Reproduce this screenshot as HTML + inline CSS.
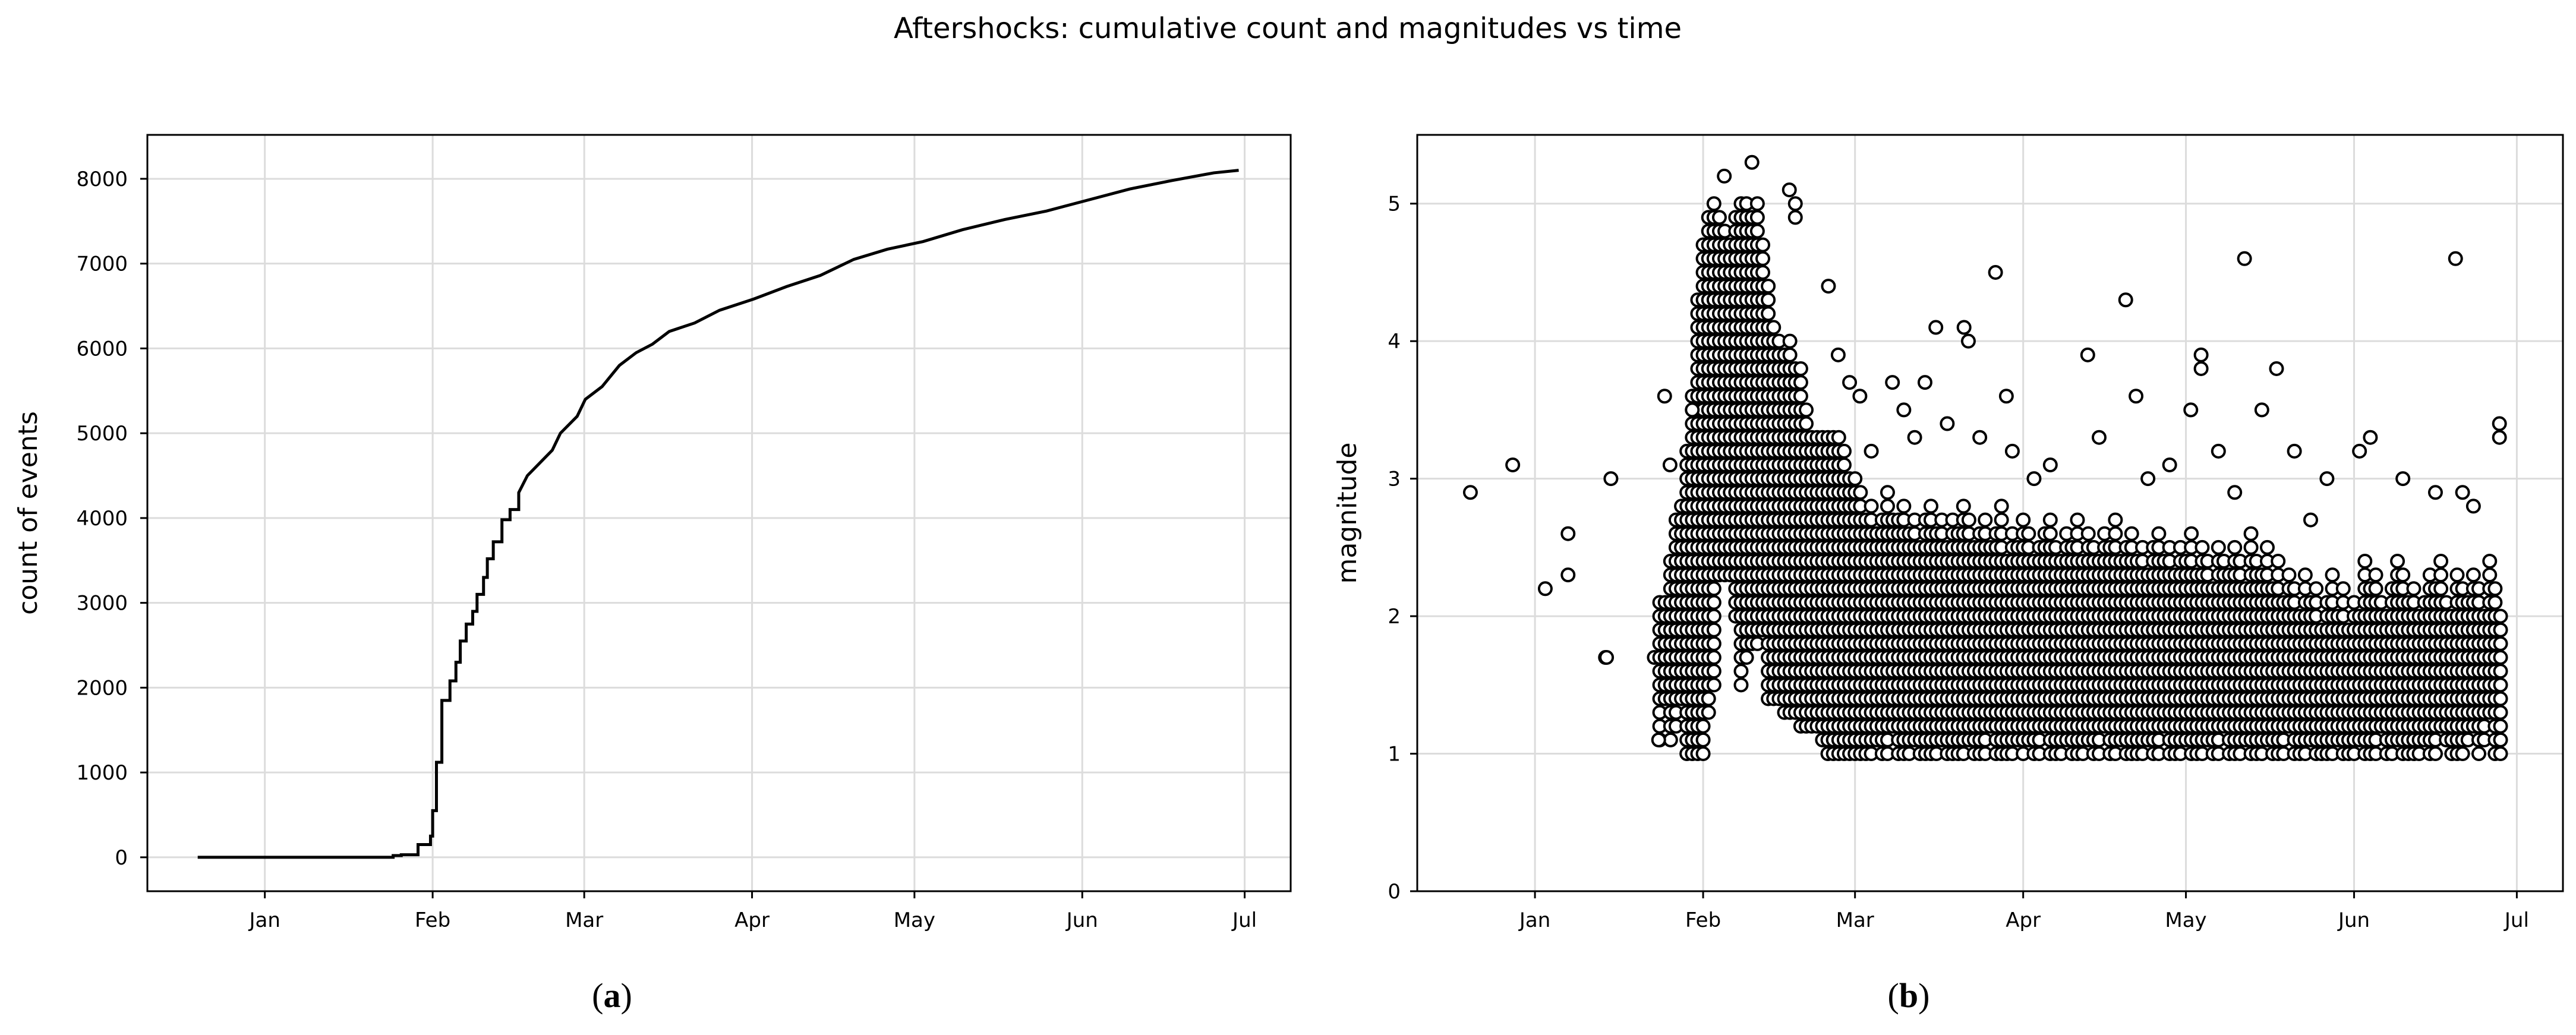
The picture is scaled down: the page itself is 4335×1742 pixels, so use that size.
<!DOCTYPE html>
<html><head><meta charset="utf-8"><style>
html,body{margin:0;padding:0;background:#fff;}
svg{display:block;font-family:"DejaVu Sans","Liberation Sans",sans-serif;}
</style></head><body>
<svg id="fig" width="4335" height="1742" viewBox="0 0 4335 1742" xmlns="http://www.w3.org/2000/svg">
<rect width="4335" height="1742" fill="#fff"/>
<text x="2167" y="64" font-size="48" text-anchor="middle">Aftershocks: cumulative count and magnitudes vs time</text>
<g id="pa"></g>
<g id="pb"></g>
<text x="1030" y="1695" font-size="58" text-anchor="middle" font-family="Liberation Serif,serif">(<tspan font-weight="bold">a</tspan>)</text>
<text x="3212" y="1695" font-size="58" text-anchor="middle" font-family="Liberation Serif,serif">(<tspan font-weight="bold">b</tspan>)</text>
</svg>
<script>
// shared x axis (day 0 = Jan 1)
const monthLabels = ["Jan","Feb","Mar","Apr","May","Jun","Jul"];
const monthDays = [0,31,59,90,120,151,181];
// panel a data
const countTicks = [0,1000,2000,3000,4000,5000,6000,7000,8000];
const cumDays = [-12.4,23.7,25.2,28.3,30.6,31,31.7,32.7,34.2,35.3,36.1,37.2,38.4,39.2,40.4,41.1,42.2,43.8,45.3,46.9,48.5,50.8,53.1,54.6,57.7,59.2,62.3,65.5,68.6,71.6,74.7,79.4,84,90.2,96.4,102.6,108.8,115,121.6,128.9,136.7,144.4,152.1,159.8,167.6,175.3,179.9];
const cumCounts = [0,20,30,150,250,550,1120,1850,2080,2300,2550,2750,2900,3100,3300,3520,3720,3980,4100,4300,4500,4650,4800,5000,5200,5400,5550,5800,5950,6050,6200,6300,6450,6580,6730,6860,7050,7170,7260,7400,7520,7620,7750,7880,7980,8070,8100];
// panel b data
const magTicks = [0,1,2,3,4,5];
const colFirstDay = 22;
const colMagMin = [1.7,1.1,1.4,1.1,1.2,1.4,1.0,1.0,1.0,1.0,1.3,1.5,2.3,2.3,2.3,2.0,1.5,1.7,1.8,1.8,1.9,1.4,1.4,1.4,1.3,1.3,1.3,1.2,1.2,1.2,1.2,1.1,1.0,1.0,1.0,1.0,1.0,1.0,1.0,1.0,1.0,1.1,1.0,1.0,1.2,1.0,1.0,1.0,1.1,1.0,1.0,1.0,1.0,1.1,1.0,1.0,1.0,1.0,1.1,1.0,1.0,1.0,1.2,1.0,1.0,1.0,1.0,1.1,1.0,1.1,1.0,1.0,1.2,1.0,1.0,1.0,1.1,1.0,1.0,1.0,1.1,1.0,1.0,1.2,1.0,1.0,1.1,1.0,1.0,1.0,1.0,1.1,1.0,1.0,1.2,1.0,1.0,1.0,1.1,1.0,1.0,1.0,1.1,1.0,1.0,1.2,1.0,1.0,1.0,1.1,1.0,1.0,1.0,1.1,1.0,1.0,1.0,1.2,1.0,1.0,1.0,1.1,1.0,1.0,1.0,1.0,1.1,1.0,1.0,1.0,1.1,1.0,1.0,1.0,1.2,1.0,1.0,1.1,1.0,1.0,1.0,1.0,1.1,1.0,1.0,1.2,1.1,1.0,1.0,1.0,1.1,1.2,1.0,1.1,1.3,1.0,1.0,1.1,1.3];
const colMagMax = [1.7,2.1,2.1,2.4,2.7,2.8,3.2,3.6,4.3,4.7,4.9,5.0,4.9,4.8,4.7,4.9,5.0,5.0,4.9,5.0,4.7,4.4,4.1,4.0,3.9,4.0,3.8,3.8,3.5,3.3,3.3,3.3,3.3,3.3,3.3,3.2,3.0,3.0,2.9,2.7,2.8,2.6,2.7,2.9,2.7,2.7,2.8,2.6,2.7,2.5,2.7,2.8,2.6,2.7,2.5,2.7,2.6,2.8,2.7,2.5,2.6,2.7,2.5,2.6,2.8,2.4,2.6,2.5,2.7,2.6,2.4,2.5,2.6,2.7,2.5,2.4,2.6,2.5,2.7,2.4,2.6,2.5,2.4,2.6,2.5,2.7,2.4,2.5,2.6,2.4,2.5,2.3,2.5,2.6,2.4,2.5,2.3,2.5,2.4,2.6,2.3,2.5,2.4,2.2,2.5,2.4,2.3,2.5,2.4,2.2,2.6,2.4,2.3,2.5,2.2,2.4,2.1,2.3,2.2,2.0,2.3,2.1,2.2,1.9,2.1,2.3,2.0,2.2,1.9,2.1,2.0,2.4,2.2,2.3,2.1,2.0,2.2,2.4,2.3,2.1,2.2,2.0,2.1,2.3,2.2,2.4,2.1,2.0,2.3,2.2,2.1,2.3,2.2,2.0,2.4,2.2,2.0];
const outDays = [-11.9,-4.1,1.9,6.1,6.1,13,13.2,14,22.8,23.9,24.9,29,34.9,40,46.9,48,48,54.1,55.9,59.9,65.9,71.9,73.9,79.1,79.9,84.9,86.9,101.9,108.9,110.8,120.9,122.8,122.8,130.8,136.7,169.7,177.8,177.8,62,68,76,82,88,95,104,113,126,134,140,146,154,160,166,173,58,70,92,117,129,143,152,171];
const outMags = [2.9,3.1,2.2,2.6,2.3,1.7,1.7,3.0,1.1,3.6,3.1,3.5,5.2,5.3,5.1,5.0,4.9,4.4,3.9,3.6,3.7,3.7,4.1,4.1,4.0,4.5,3.6,3.9,4.3,3.6,3.5,3.9,3.8,4.6,3.8,4.6,3.4,3.3,3.2,3.5,3.4,3.3,3.2,3.1,3.3,3.0,3.2,3.5,3.2,3.0,3.3,3.0,2.9,2.8,3.7,3.3,3.0,3.1,2.9,2.7,3.2,2.9];

const NS="http://www.w3.org/2000/svg";
function mk(parent,tag,attrs){const e=document.createElementNS(NS,tag);for(const k in attrs)e.setAttribute(k,attrs[k]);parent.appendChild(e);return e;}
const DMIN=-21.7, DMAX=189.5;

function axes(g,L,R,T,B,yTicks,ymin,ymax,fmt,ylabel,ylabX,tickLabelX){
  const xs=d=>L+(d-DMIN)/(DMAX-DMIN)*(R-L);
  const ys=v=>B-(v-ymin)/(ymax-ymin)*(B-T);
  const grid=mk(g,'g',{});
  
  
  monthDays.forEach((d,i)=>{
    const x=xs(d);
    mk(grid,'line',{x1:x,x2:x,y1:T,y2:B,stroke:'#dcdcdc','stroke-width':3});
    mk(g,'line',{x1:x,x2:x,y1:B,y2:B+12,stroke:'#000','stroke-width':3});
    const t=mk(g,'text',{x:x,y:B+60,'font-size':34,'text-anchor':'middle'});
    t.textContent=monthLabels[i];
    
    
  });
  yTicks.forEach(v=>{
    const y=ys(v);
    mk(grid,'line',{x1:L,x2:R,y1:y,y2:y,stroke:'#dcdcdc','stroke-width':3});
    mk(g,'line',{x1:L-12,x2:L,y1:y,y2:y,stroke:'#000','stroke-width':3});
    const t=mk(g,'text',{x:tickLabelX,y:y+12,'font-size':34,'text-anchor':'end'});
    t.textContent=fmt(v);
    
    
  });
  const yl=mk(g,'text',{x:ylabX,y:(T+B)/2,'font-size':44,'text-anchor':'middle',transform:`rotate(-90 ${ylabX} ${(T+B)/2})`});
  yl.textContent=ylabel;
  
  
  return {xs,ys};
}

// Panel a
(function(){
  const g=document.getElementById('pa');
  const L=248,R=2172,T=227,B=1500;
  const {xs,ys}=axes(g,L,R,T,B,countTicks,-400,8518,v=>String(v),'count of events',62,215);
  let d=`M${xs(cumDays[0])},${ys(cumCounts[0])}`;
  for(let i=1;i<cumDays.length;i++){
    if(cumDays[i]<47){d+=` H${xs(cumDays[i])} V${ys(cumCounts[i])}`;}
    else{d+=` L${xs(cumDays[i])},${ys(cumCounts[i])}`;}
  }
  const p=mk(g,'path',{d:d,fill:'none',stroke:'#000','stroke-width':5});
  
  
  const f=mk(g,'rect',{x:L,y:T,width:R-L,height:B-T,fill:'none',stroke:'#000','stroke-width':3});
  
  
})();

// Panel b
(function(){
  const g=document.getElementById('pb');
  const L=2385,R=4313,T=227,B=1500;
  const {xs,ys}=axes(g,L,R,T,B,magTicks,0,5.5,v=>String(v),'magnitude',2282,2357);
  const pts=mk(g,'g',{fill:'#fff',stroke:'#000','stroke-width':4});
  
  
  for(let i=0;i<colMagMin.length;i++){
    const day=colFirstDay+i;
    const n=Math.round((colMagMax[i]-colMagMin[i])*10);
    for(let k=0;k<=n;k++){
      const m=colMagMin[i]+k/10;
      const c=mk(pts,'circle',{cx:xs(day),cy:ys(m),r:10.5});
      
      
    }
  }
  for(let i=0;i<outDays.length;i++){
    const c=mk(pts,'circle',{cx:xs(outDays[i]),cy:ys(outMags[i]),r:10.5});
    
    
  }
  const f=mk(g,'rect',{x:L,y:T,width:R-L,height:B-T,fill:'none',stroke:'#000','stroke-width':3});
  
  
})();
</script>
</body></html>
